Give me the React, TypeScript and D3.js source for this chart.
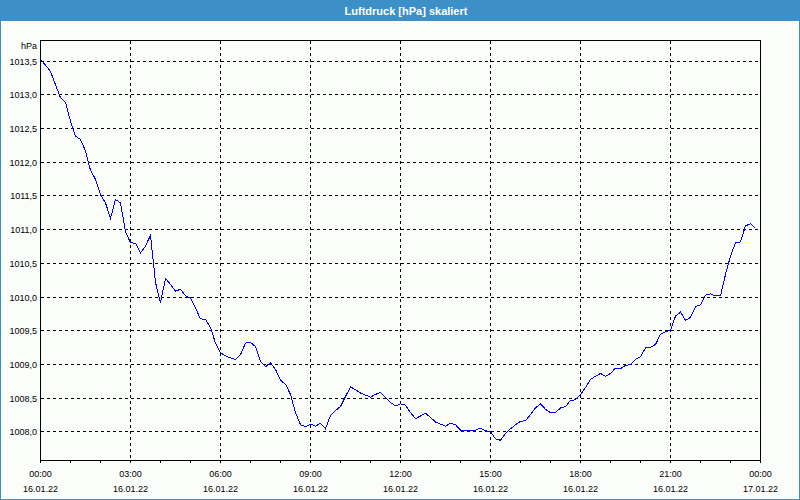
import React from "react";
import * as d3 from "d3";

const TITLE = "Luftdruck [hPa] skaliert";
const UNIT = "hPa";

// minutes since 16.01.22 00:00
const minutes = [
  0, 20, 30, 40, 50, 60, 70, 80, 90, 100, 110, 120, 130, 140, 150, 160, 170, 180, 190, 200,
  210, 220, 230, 240, 250, 260, 270, 280, 290, 300, 310, 320, 330, 340, 350, 360, 370, 380, 390, 400,
  410, 420, 430, 440, 450, 460, 470, 480, 490, 500, 510, 520, 530, 540, 550, 560, 570, 580, 590, 600,
  610, 620, 630, 640, 650, 660, 670, 680, 690, 700, 710, 720, 730, 740, 750, 760, 770, 780, 790, 800,
  810, 820, 830, 840, 850, 860, 870, 880, 890, 900, 910, 920, 930, 940, 950, 960, 970, 980, 990, 1000,
  1010, 1020, 1030, 1040, 1050, 1060, 1070, 1080, 1090, 1100, 1110, 1120, 1130, 1140, 1150, 1160, 1170, 1180, 1190, 1200,
  1210, 1220, 1230, 1240, 1250, 1260, 1270, 1280, 1290, 1300, 1310, 1320, 1330, 1340, 1350, 1360, 1370, 1380, 1390, 1400,
  1410, 1420, 1430,
];

const pressure = [
  1013.52, 1013.34, 1013.14, 1012.95, 1012.88, 1012.6, 1012.38, 1012.33, 1012.16, 1011.87, 1011.74, 1011.51, 1011.39, 1011.16, 1011.44, 1011.39, 1010.96, 1010.8, 1010.79, 1010.65,
  1010.75, 1010.91, 1010.21, 1009.91, 1010.27, 1010.18, 1010.08, 1010.11, 1010.01, 1009.98, 1009.83, 1009.67, 1009.66, 1009.54, 1009.31, 1009.17, 1009.12, 1009.09, 1009.07, 1009.14,
  1009.31, 1009.32, 1009.26, 1009.04, 1008.96, 1009.02, 1008.92, 1008.76, 1008.7, 1008.55, 1008.28, 1008.1, 1008.07, 1008.11, 1008.08, 1008.12, 1008.04, 1008.24, 1008.31, 1008.37,
  1008.52, 1008.66, 1008.62, 1008.57, 1008.54, 1008.51, 1008.55, 1008.58, 1008.5, 1008.43, 1008.38, 1008.41, 1008.39, 1008.28, 1008.19, 1008.23, 1008.27, 1008.21, 1008.14, 1008.11,
  1008.08, 1008.12, 1008.1, 1008.02, 1008.01, 1008.02, 1008.02, 1008.05, 1008.01, 1008.0, 1007.89, 1007.87, 1007.97, 1008.04, 1008.1, 1008.15, 1008.16, 1008.25, 1008.35, 1008.41,
  1008.33, 1008.28, 1008.28, 1008.35, 1008.37, 1008.46, 1008.47, 1008.55, 1008.65, 1008.77, 1008.82, 1008.86, 1008.82, 1008.86, 1008.94, 1008.93, 1008.98, 1008.99, 1009.07, 1009.11,
  1009.24, 1009.25, 1009.29, 1009.44, 1009.48, 1009.5, 1009.71, 1009.77, 1009.65, 1009.69, 1009.85, 1009.88, 1010.02, 1010.04, 1010.01, 1010.01, 1010.33, 1010.6, 1010.8, 1010.81,
  1011.05, 1011.08, 1011.01,
];

const yTicks = [1008.0, 1008.5, 1009.0, 1009.5, 1010.0, 1010.5, 1011.0, 1011.5, 1012.0, 1012.5, 1013.0, 1013.5];
const xTickMinutes = [0, 180, 360, 540, 720, 900, 1080, 1260, 1440];
const xTimeLabels = ["00:00", "03:00", "06:00", "09:00", "12:00", "15:00", "18:00", "21:00", "00:00"];
const xDateLabels = ["16.01.22", "16.01.22", "16.01.22", "16.01.22", "16.01.22", "16.01.22", "16.01.22", "16.01.22", "17.01.22"];

export default function App() {
  const W = 800;
  const H = 500;
  const left = 40.5;
  const right = 760.5;
  const top = 40.5;
  const bottom = 460.5;

  const x = d3.scaleLinear().domain([0, 1440]).range([left, right]);
  const y = d3.scaleLinear().domain([1007.57, 1013.797]).range([bottom, top]);

  const data = minutes.map((m, i) => ({ m, v: pressure[i] }));
  const line = d3
    .line<{ m: number; v: number }>()
    .x((d) => x(d.m))
    .y((d) => y(d.v));

  const hourTicks = d3.range(0, 1441, 60);
  const font = "Tahoma, 'Liberation Sans', 'DejaVu Sans', sans-serif";
  const fmt = (v: number) => v.toFixed(1).replace(".", ",");

  return (
    <div style={{ position: "absolute", left: 0, top: 0 }}>
      <svg width={W} height={H} style={{ display: "block" }}>
        <rect x={0} y={0} width={W} height={H} fill="#fbfdfb" />
        <rect x={0.5} y={0.5} width={W - 1} height={H - 1} fill="none" stroke="#3d8fc7" />
        <rect x={0} y={0} width={W} height={21} fill="#3d8fc7" />
        <text
          x={W / 2 + 6}
          y={10.5}
          fill="#ffffff"
          fontFamily={font}
          fontWeight="bold"
          fontSize={11}
          textAnchor="middle"
          dominantBaseline="central"
        >
          {TITLE}
        </text>

        <g shapeRendering="crispEdges">
          {yTicks.map((t) => (
            <line
              key={"h" + t}
              x1={left}
              x2={right}
              y1={Math.round(y(t)) + 0.5}
              y2={Math.round(y(t)) + 0.5}
              stroke="#000"
              strokeDasharray="3,3"
            />
          ))}
          {xTickMinutes.slice(1, -1).map((t) => (
            <line
              key={"v" + t}
              x1={x(t)}
              x2={x(t)}
              y1={top}
              y2={bottom}
              stroke="#000"
              strokeDasharray="3,3"
            />
          ))}
          {hourTicks.map((t) => (
            <line key={"t" + t} x1={x(t)} x2={x(t)} y1={bottom} y2={bottom + 2} stroke="#000" />
          ))}
        </g>

        <path
          d={line(data) || ""}
          fill="none"
          stroke="#0000ff"
          strokeWidth={1}
          shapeRendering="crispEdges"
        />

        <rect
          x={left}
          y={top}
          width={right - left}
          height={bottom - top}
          fill="none"
          stroke="#000"
          shapeRendering="crispEdges"
        />

        <g fontFamily={font} fontSize={9} fill="#000" textAnchor="end">
          <text x={37} y={46} dominantBaseline="central">
            {UNIT}
          </text>
          {yTicks.map((t) => (
            <text key={"yl" + t} x={37} y={Math.round(y(t)) + 0.5} dominantBaseline="central">
              {fmt(t)}
            </text>
          ))}
        </g>

        <g fontFamily={font} fontSize={9} fill="#000" textAnchor="middle">
          {xTickMinutes.map((t, i) => (
            <g key={"xl" + i}>
              <text x={x(t)} y={474} dominantBaseline="central">
                {xTimeLabels[i]}
              </text>
              <text x={x(t)} y={489} dominantBaseline="central">
                {xDateLabels[i]}
              </text>
            </g>
          ))}
        </g>
      </svg>
    </div>
  );
}
